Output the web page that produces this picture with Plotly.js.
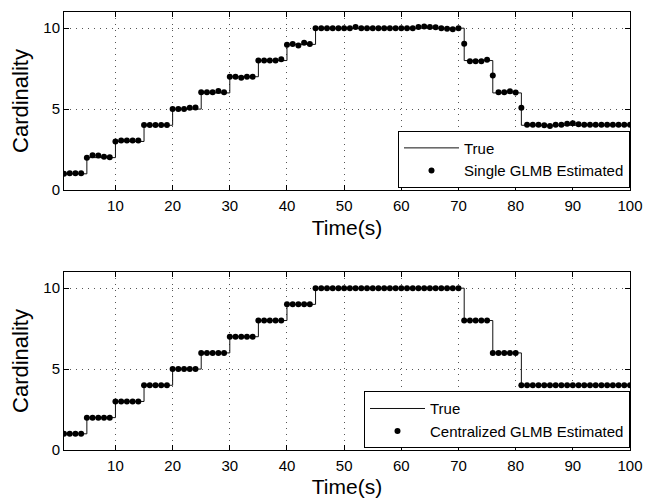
<!DOCTYPE html>
<html>
<head>
<meta charset="utf-8">
<script src="https://cdn.plot.ly/plotly-3.0.1.min.js"></script>
<style>html,body{margin:0;padding:0;background:#fff;}#chart{width:649px;height:498px;}</style>
</head>
<body>
<div id="chart"></div>
<script>
// Time steps 1..100
const time = Array.from({length: 100}, (_, i) => i + 1);

// True cardinality (same for both panels)
const trueCard = [
  1,1,1,1,
  2,2,2,2,2,
  3,3,3,3,3,
  4,4,4,4,4,
  5,5,5,5,5,
  6,6,6,6,6,
  7,7,7,7,7,
  8,8,8,8,8,
  9,9,9,9,9,
  10,10,10,10,10,10,10,10,10,10,10,10,10,10,10,10,10,10,10,10,10,10,10,10,10,10,
  8,8,8,8,8,
  6,6,6,6,6,
  4,4,4,4,4,4,4,4,4,4,4,4,4,4,4,4,4,4,4,4
];

// Single GLMB estimated cardinality (top panel)
const singleEst = [
  1.0,1.03,1.03,1.03,
  2.0,2.15,2.13,2.06,2.02,
  3.0,3.06,3.06,3.06,3.06,
  4.02,4.02,4.02,4.02,4.02,
  5.0,5.0,5.0,5.08,5.1,
  6.04,6.04,6.04,6.12,6.04,
  7.0,7.0,6.93,7.0,7.0,
  8.0,8.0,8.0,8.0,8.08,
  8.97,9.03,8.93,9.1,9.02,
  10.0,10.0,10.0,10.0,10.0,10.0,10.0,10.08,10.0,10.0,10.0,10.0,10.0,10.0,10.0,10.0,10.0,10.0,10.08,10.1,10.08,10.06,10.0,9.97,9.93,10.0,
  9.04,7.95,7.95,7.95,8.05,
  7.07,6.04,6.04,6.1,6.02,
  5.08,4.04,4.04,4.04,4.0,3.96,4.04,4.04,4.1,4.12,4.06,4.04,4.04,4.04,4.04,4.04,4.04,4.04,4.04,4.04
];

// Centralized GLMB estimated cardinality (bottom panel)
const centralEst = [
  1,1,1,1,
  2,2,2,2,2,
  3,3,3,3,3,
  4,4,4,4,4,
  5,5,5,5,5,
  6,6,6,6,6,
  7,7,7,7,7,
  8,8,8,8,8,
  9,9,9,9,9,
  10,10,10,10,10,10,10,10,10,10,10,10,10,10,10,10,10,10,10,10,10,10,10,10,10,10,
  8,8,8,8,8,
  6,6,6,6,6,
  4,4,4,4,4,4,4,4,4,4,4,4,4,4,4,4,4,4,4,4
];

const xTicks = [10,20,30,40,50,60,70,80,90,100];
const yTicks = [0,5,10];

const FONT = '"Liberation Sans", Arial, sans-serif';

function axX(anchor){
  return {
    anchor: anchor, range: [1, 100], tickvals: xTicks, ticktext: xTicks.map(String),
    ticks: 'inside', ticklen: 5, tickcolor: '#000', mirror: 'ticks',
    showline: true, linecolor: '#000', linewidth: 1,
    showgrid: true, gridcolor: '#555', griddash: '1px,5px', gridwidth: 1,
    zeroline: false, tickfont: {family: FONT, size: 15, color: '#000'},
    ticklabelstandoff: 2,
    title: {text: 'Time(s)', font: {family: FONT, size: 21, color: '#000'}, standoff: 7}
  };
}
function axY(anchor, domain){
  return {
    anchor: anchor, domain: domain, range: [0, 11], tickvals: yTicks, ticktext: yTicks.map(String),
    ticks: 'inside', ticklen: 5, tickcolor: '#000', mirror: 'ticks',
    showline: true, linecolor: '#000', linewidth: 1,
    showgrid: true, gridcolor: '#555', griddash: '1px,5px', gridwidth: 1,
    zeroline: false, tickfont: {family: FONT, size: 15, color: '#000'},
    title: {text: 'Cardinality', font: {family: FONT, size: 22, color: '#000'}, standoff: 8}
  };
}

const traces = [
  {x: time, y: trueCard, type: 'scatter', mode: 'lines', line: {shape: 'hv', color: '#111', width: 1},
   name: 'True', xaxis: 'x', yaxis: 'y', legend: 'legend'},
  {x: time, y: singleEst, type: 'scatter', mode: 'markers', marker: {color: '#000', size: 6},
   name: 'Single GLMB Estimated', xaxis: 'x', yaxis: 'y', legend: 'legend'},
  {x: time, y: trueCard, type: 'scatter', mode: 'lines', line: {shape: 'hv', color: '#111', width: 1},
   name: 'True', xaxis: 'x2', yaxis: 'y2', legend: 'legend2'},
  {x: time, y: centralEst, type: 'scatter', mode: 'markers', marker: {color: '#000', size: 6},
   name: 'Centralized GLMB Estimated', xaxis: 'x2', yaxis: 'y2', legend: 'legend2'}
];

const legendBase = {
  bgcolor: '#fff', bordercolor: '#000', borderwidth: 1,
  font: {family: FONT, size: 15, color: '#000'},
  xanchor: 'right', yanchor: 'bottom', x: 1, tracegroupgap: 0, itemwidth: 55
};

const layout = {
  width: 649, height: 498,
  margin: {l: 64, r: 19, t: 12, b: 48},
  paper_bgcolor: '#fff', plot_bgcolor: '#fff',
  showlegend: true,
  xaxis: axX('y'),
  yaxis: axY('x', [0.5936, 1]),
  xaxis2: axX('y2'),
  yaxis2: axY('x2', [0, 0.4064]),
  legend: Object.assign({}, legendBase, {y: 0.599}),
  legend2: Object.assign({}, legendBase, {y: 0.004})
};

Plotly.newPlot('chart', traces, layout, {displayModeBar: false, staticPlot: true});
</script>
</body>
</html>
